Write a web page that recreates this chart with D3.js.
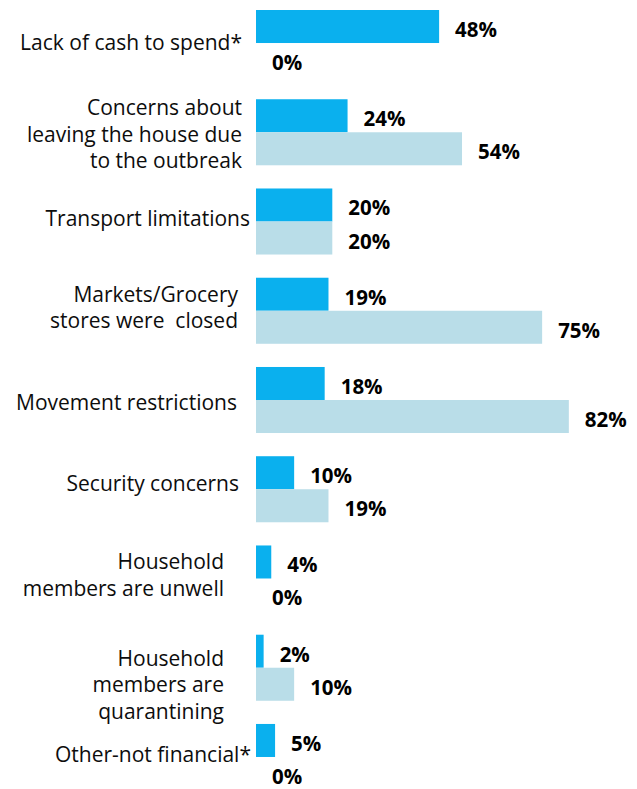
<!DOCTYPE html>
<html>
<head>
<meta charset="utf-8">
<script src="https://cdn.jsdelivr.net/npm/d3@7/dist/d3.min.js"></script>
<style>
  html, body { margin: 0; padding: 0; background: #ffffff; }
  svg { display: block; }
</style>
</head>
<body>
<div id="chart"></div>
<script>
// ---- Data ----
const categories = [
  "Lack of cash to spend*",
  "Concerns about\nleaving the house due\nto the outbreak",
  "Transport limitations",
  "Markets/Grocery\nstores were  closed",
  "Movement restrictions",
  "Security concerns",
  "Household\nmembers are unwell",
  "Household\nmembers are\nquarantining",
  "Other-not financial*"
];
const seriesNames = ["Series 1", "Series 2"];
const series1 = [48, 24, 20, 19, 18, 10, 4, 2, 5];
const series2 = [0, 54, 20, 75, 82, 19, 0, 10, 0];

// ---- Layout (not data) ----
const labelRight = [242, 242, 250, 238, 237, 239, 224, 224, 251];
const labelShift = [0, 2.5, -2.5, -3, 2.5, -5, -3, 17.5, -2];
const colors = ["#0AB0EE", "#B9DDE8"];

const W = 637, H = 789;
const svg = d3.select("#chart").append("svg")
  .attr("width", W).attr("height", H)
  .style("background", "#fff");

const x = d3.scaleLinear().domain([0, 100]).range([256, 637.5]);
const y = d3.scaleBand().domain(categories).range([10, 790])
  .paddingInner(0.26).paddingOuter(0);
const ys = d3.scaleBand().domain(seriesNames).range([0, y.bandwidth()]);

const rows = categories.map((c, i) => ({
  cat: c, i,
  vals: [
    { s: seriesNames[0], v: series1[i], k: 0 },
    { s: seriesNames[1], v: series2[i], k: 1 }
  ]
}));

const g = svg.selectAll("g.row").data(rows).join("g")
  .attr("class", "row")
  .attr("transform", d => `translate(0,${y(d.cat)})`);

g.selectAll("rect").data(d => d.vals).join("rect")
  .attr("x", x(0))
  .attr("y", d => ys(d.s))
  .attr("width", d => x(d.v) - x(0))
  .attr("height", ys.bandwidth())
  .attr("fill", d => colors[d.k]);

g.selectAll("text.val").data(d => d.vals).join("text")
  .attr("class", "val")
  .attr("x", d => x(d.v) + 16)
  .attr("y", d => ys(d.s) + ys.bandwidth() / 2 + 10.5)
  .attr("font-family", "'Open Sans', sans-serif")
  .attr("font-weight", "bold")
  .attr("font-size", 20.5)
  .attr("fill", "#000")
  .text(d => d.v + "%");

// Category labels
const lineH = 26.5;
svg.selectAll("text.cat").data(rows).join("text")
  .attr("class", "cat")
  .attr("text-anchor", "end")
  .attr("font-family", "'Open Sans', sans-serif")
  .attr("font-size", 21)
  .attr("fill", "#0d0d0d")
  .each(function(d) {
    const lines = d.cat.split("\n");
    const cy = y(d.cat) + y.bandwidth() / 2 + labelShift[d.i];
    const first = cy - (lines.length - 1) * lineH / 2 + 7;
    d3.select(this).selectAll("tspan").data(lines).join("tspan")
      .attr("x", labelRight[d.i])
      .attr("y", (l, j) => first + j * lineH)
      .attr("xml:space", "preserve")
      .text(l => l);
  });
</script>
</body>
</html>
